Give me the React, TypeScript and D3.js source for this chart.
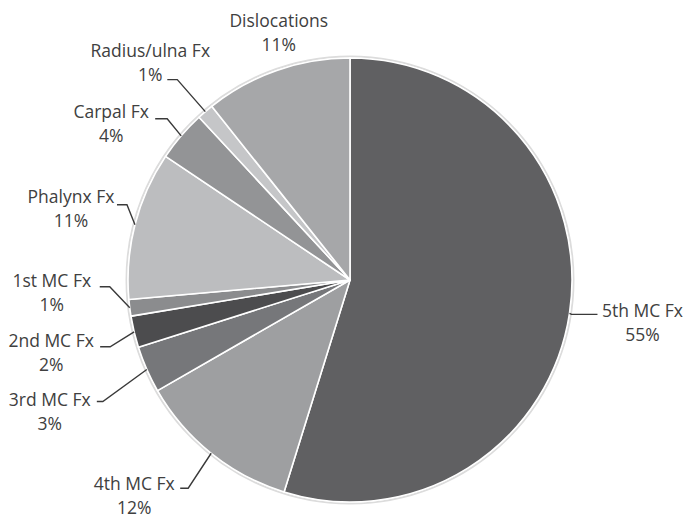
import React from "react";
import { pie, arc, PieArcDatum } from "d3";

const width = 699;
const height = 519;
const cx = 350;
const cy = 280;
const radius = 222;

// data (slice shares, percent)
const categories = [
  "5th MC Fx",
  "4th MC Fx",
  "3rd MC Fx",
  "2nd MC Fx",
  "1st MC Fx",
  "Phalynx Fx",
  "Carpal Fx",
  "Radius/ulna Fx",
  "Dislocations"
];
const values = [54.8, 11.9, 3.4, 2.3, 1.2, 10.8, 3.7, 1.2, 10.7];
const percentLabels = ["55%", "12%", "3%", "2%", "1%", "11%", "4%", "1%", "11%"];

const colors = [
  "#606062",
  "#9e9fa1",
  "#76777a",
  "#4c4c4e",
  "#8b8c8e",
  "#bcbdbf",
  "#939496",
  "#c5c6c8",
  "#a6a7a9"
];

// label layout, relative to the slice's outer mid point
// elbow: [dx, dy] or null, endDx: horizontal run from elbow, text: [dx, dy] of first line centre
const labelLayout = [
  { elbow: [2, 1], endDx: 26, text: [73, -3] },
  { elbow: [-23, 35], endDx: -8, text: [-77, 30] },
  { elbow: [-44, 32], endDx: -6, text: [-97, 30] },
  { elbow: [-24, 15], endDx: -10, text: [-83, 9] },
  { elbow: [-20, -21], endDx: -10, text: [-78, -27] },
  { elbow: [-8, -20], endDx: -10, text: [-64, -28] },
  { elbow: [-14, -17], endDx: -12, text: [-70, -24] },
  { elbow: [-28, -32], endDx: -10, text: [-55, -61] },
  { elbow: null, endDx: 0, text: [2, -50] }
];

const lineGap = 24;

const pieGen = pie<number>()
  .value(d => d)
  .sort(null);

const arcGen = arc<PieArcDatum<number>>()
  .innerRadius(0)
  .outerRadius(radius);

const App = () => {
  const arcs = pieGen(values);

  return (
    <svg
      width={width}
      height={height}
      style={{ position: "absolute", left: 0, top: 0, background: "#fff" }}
    >
      <g transform={`translate(${cx},${cy})`}>
        <circle r={radius + 1.5} fill="none" stroke="#dcdcdc" strokeWidth={2} />
        {arcs.map((a, i) => (
          <path
            key={categories[i]}
            d={arcGen(a) || ""}
            fill={colors[i]}
            stroke="#fff"
            strokeWidth={1.6}
            strokeLinejoin="round"
          />
        ))}
        {arcs.map((a, i) => {
          const mid = (a.startAngle + a.endAngle) / 2;
          const sx = radius * Math.sin(mid);
          const sy = -radius * Math.cos(mid);
          const lay = labelLayout[i];
          let leader = null;
          if (lay.elbow) {
            const ex = sx + lay.elbow[0];
            const ey = sy + lay.elbow[1];
            leader = (
              <polyline
                points={`${sx},${sy} ${ex},${ey} ${ex + lay.endDx},${ey}`}
                fill="none"
                stroke="#3a3a3a"
                strokeWidth={1.4}
              />
            );
          }
          const tx = sx + lay.text[0];
          const ty = sy + lay.text[1];
          return (
            <g key={"lab" + i}>
              {leader}
              <text
                x={tx}
                y={ty}
                textAnchor="middle"
                dy="0.36em"
                fontFamily="'Open Sans', sans-serif"
                fontSize={17.5}
                fill="#404040"
              >
                {categories[i]}
              </text>
              <text
                x={tx}
                y={ty + lineGap}
                textAnchor="middle"
                dy="0.36em"
                fontFamily="'Open Sans', sans-serif"
                fontSize={17.5}
                fill="#404040"
              >
                {percentLabels[i]}
              </text>
            </g>
          );
        })}
      </g>
    </svg>
  );
};

export default App;
